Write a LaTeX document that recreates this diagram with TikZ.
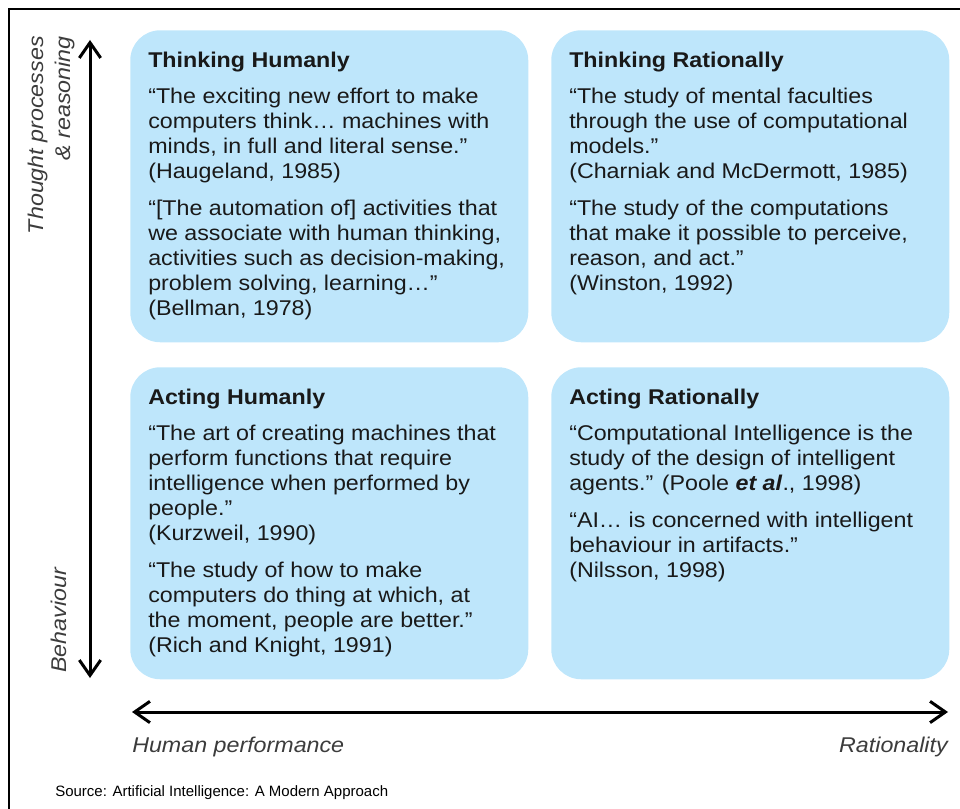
\documentclass[tikz,border=0pt]{standalone}
\usepackage{fontspec}
\setmainfont{Liberation Sans}[FakeStretch=1.09]
\newfontfamily\srcfont{Liberation Sans}
\usepackage{xcolor}
\usepackage{tikz}
\usetikzlibrary{positioning,arrows.meta}

\definecolor{boxblue}{RGB}{190,230,251}
\definecolor{labelgrey}{RGB}{60,60,60}

\tikzset{
    quad/.style={fill=boxblue, rounded corners=22.5pt, inner sep=0pt, anchor=north west,
        minimum width=298.5pt, minimum height=234pt},
    quote/.style={inner sep=0pt, align=left, text=black!90, font=\fontsize{16}{18.75}\selectfont},
    axis/.style={line width=2.25pt, {Straight Barb[length=11.5pt,width=16pt]}-{Straight Barb[length=11.5pt,width=16pt]}},
    axislabel/.style={inner sep=0pt, text=labelgrey, font=\fontsize{16}{20.25}\selectfont\itshape}
}

\begin{document}
\begin{tikzpicture}[x=0.75pt, y=-0.75pt]
    \useasboundingbox (0,0) rectangle (960,809);
    \clip (0,0) rectangle (960,809);

    % outer frame
    \draw[line width=1.1pt] (9,830) -- (9,9) -- (980,9);

    % four quadrants
    \foreach \nm/\x/\y in {th/130/30, tr/551/30, ah/130/367, ar/551/367}
        \node[quad] (\nm) at (\x,\y) {};

    \node[quote, below right=16.3pt and 13.5pt of th.north west] (thtext) {%
        \textbf{Thinking Humanly}\\[8.25pt]
        “The exciting new effort to make\\
        computers think… machines with\\
        minds, in full and literal sense.”\\
        (Haugeland, 1985)\\[9pt]
        “[The automation of] activities that\\
        we associate with human thinking,\\
        activities such as decision-making,\\
        problem solving, learning…”\\
        (Bellman, 1978)};

    \node[quote, below right=16.3pt and 13.5pt of tr.north west] (trtext) {%
        \textbf{Thinking Rationally}\\[8.25pt]
        “The study of mental faculties\\
        through the use of computational\\
        models.”\\
        (Charniak and McDermott, 1985)\\[9pt]
        “The study of the computations\\
        that make it possible to perceive,\\
        reason, and act.”\\
        (Winston, 1992)};

    \node[quote, below right=16.3pt and 13.5pt of ah.north west] (ahtext) {%
        \textbf{Acting Humanly}\\[8.25pt]
        “The art of creating machines that\\
        perform functions that require\\
        intelligence when performed by\\
        people.”\\
        (Kurzweil, 1990)\\[9pt]
        “The study of how to make\\
        computers do thing at which, at\\
        the moment, people are better.”\\
        (Rich and Knight, 1991)};

    \node[quote, below right=16.3pt and 13.5pt of ar.north west] (artext) {%
        \textbf{Acting Rationally}\\[8.25pt]
        “Computational Intelligence is the\\
        study of the design of intelligent\\
        agents.” (Poole \textbf{\textit{et al}}., 1998)\\[9pt]
        “AI… is concerned with intelligent\\
        behaviour in artifacts.”\\
        (Nilsson, 1998)};

    % vertical axis
    \coordinate (thought) at (90,40);
    \coordinate (behave) at (90,678);
    \draw[axis] (behave) -- (thought);
    \node[axislabel, rotate=90, align=right, anchor=east] (thoughtlbl) at (51,36)
        {Thought processes\\\& reasoning};
    \node[axislabel, rotate=90] (behavelbl) at (58.5,620.5) {Behaviour};

    % horizontal axis
    \coordinate (human) at (132,712);
    \coordinate (rational) at (948,712);
    \draw[axis] (human) -- (rational);
    \node[axislabel, anchor=base west] (humanlbl) at (132,752) {Human performance};
    \node[axislabel, anchor=base east] (rationallbl) at (948,752) {Rationality};

    % source line
    \node[inner sep=0pt, anchor=base west, font=\srcfont\fontsize{11.25}{13}\selectfont] (source)
        at (55,796) {Source: Artificial Intelligence: A Modern Approach};
\end{tikzpicture}
\end{document}
